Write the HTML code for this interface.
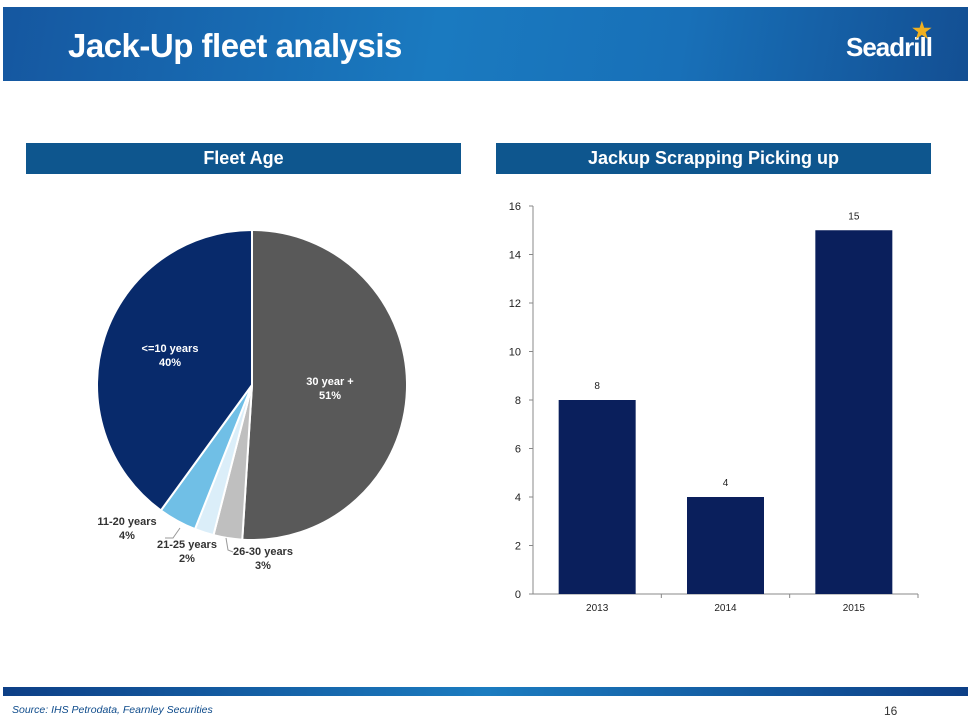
<!DOCTYPE html>
<html><head><meta charset="utf-8"><style>
body{margin:0;width:975px;height:718px;background:#fff;position:relative;overflow:hidden;font-family:"Liberation Sans",sans-serif}
.hdr{position:absolute;left:3px;top:7px;width:965px;height:74px;background:linear-gradient(100deg,#1557a0 0%,#1a7ac0 45%,#1870b8 70%,#134f93 100%)}
.title{position:absolute;left:68px;top:27px;color:#fff;font-weight:bold;font-size:33px;letter-spacing:-0.5px}
.logo{position:absolute;left:846px;top:32px;color:#fff;font-weight:bold;font-size:26px;letter-spacing:-1px}
.sec{position:absolute;top:143px;height:31px;background:#0e568e;color:#fff;font-weight:bold;font-size:18px;text-align:center;line-height:31px}
.foot{position:absolute;left:3px;top:687px;width:965px;height:9px;background:linear-gradient(90deg,#0d3f86,#1b7cc0 50%,#0d3f86)}
.src{position:absolute;left:12px;top:704px;font-size:10.5px;font-style:italic;color:#0e4b8b}
.pg{position:absolute;left:884px;top:704px;font-size:12px;color:#333}
</style></head><body>
<div class="hdr"></div>
<div class="title">Jack-Up fleet analysis</div>
<div class="logo">Seadrill<span style="position:absolute;left:66px;top:-14px;color:#f0b020;font-size:22px">★</span></div>
<div class="sec" style="left:26px;width:435px">Fleet Age</div>
<div class="sec" style="left:496px;width:435px">Jackup Scrapping Picking up</div>
<svg id="pie" width="975" height="718" style="position:absolute;left:0;top:0"></svg>
<div class="foot"></div>
<div class="src">Source: IHS Petrodata, Fearnley Securities</div>
<div class="pg">16</div>
<script>
const pieLabels=["30 year +","26-30 years","21-25 years","11-20 years","<=10 years"];
const pieValues=[51,3,2,4,40];
const pieColors=["#595959","#bfbfbf","#dbeef9","#70bfe6","#082a6b"];
const barCats=["2013","2014","2015"];
const barValues=[8,4,15];
const yTicks=[0,2,4,6,8,10,12,14,16];
const NS="http://www.w3.org/2000/svg";
const svg=document.getElementById('pie');
function mk(t,a,p){const e=document.createElementNS(NS,t);for(const k in a)e.setAttribute(k,a[k]);(p||svg).appendChild(e);return e;}
const cx=252,cy=385,R=155;
const tot=pieValues.reduce((a,b)=>a+b,0);
let ang=0;
const lblPos=[[330,385],[263,555],[187,548],[127,525],[170,352]];
pieValues.forEach((v,i)=>{
 const a0=ang,a1=ang+v/tot*2*Math.PI;ang=a1;
 const x0=cx+R*Math.sin(a0),y0=cy-R*Math.cos(a0),x1=cx+R*Math.sin(a1),y1=cy-R*Math.cos(a1);
 const p=mk('path',{d:`M${cx},${cy}L${x0},${y0}A${R},${R} 0 ${a1-a0>Math.PI?1:0} 1 ${x1},${y1}Z`,fill:pieColors[i],stroke:'#fff','stroke-width':2});
 
 
 const [lx,ly]=lblPos[i];const col=(i==0||i==4)?'#fff':'#333';
 const t=mk('text',{x:lx,y:ly,'text-anchor':'middle','font-size':11,'font-weight':'bold',fill:col});
 
 
 t.textContent=pieLabels[i];
 const t2=mk('text',{x:lx,y:ly+14,'text-anchor':'middle','font-size':11,'font-weight':'bold',fill:col});
 
 
 t2.textContent=v+'%';
});
mk('polyline',{points:'165,538 173,538 180,528',fill:'none',stroke:'#999'});
mk('polyline',{points:'226,538 228,550 233,552',fill:'none',stroke:'#999'});
const x0=533,x1=918,yb=594,yt=206,ymax=16;
const ys=v=>yb-(v/ymax)*(yb-yt);
const slot=(x1-x0)/barCats.length;
mk('line',{x1:x0,y1:yt,x2:x0,y2:yb,stroke:'#888'});
mk('line',{x1:x0,y1:yb,x2:x1,y2:yb,stroke:'#888'});
yTicks.forEach(v=>{
 mk('line',{x1:x0-4,y1:ys(v),x2:x0,y2:ys(v),stroke:'#888'});
 const t=mk('text',{x:x0-12,y:ys(v)+4,'text-anchor':'end','font-size':11,fill:'#222'});
 
 
 t.textContent=v;
});
barCats.forEach((c,i)=>{
 const cxb=x0+slot*(i+0.5),w=77;
 const r=mk('rect',{x:cxb-w/2,y:ys(barValues[i]),width:w,height:yb-ys(barValues[i]),fill:'#0a1f5c'});
 
 
 mk('line',{x1:x0+slot*(i+1),y1:yb,x2:x0+slot*(i+1),y2:yb+4,stroke:'#888'});
 const t=mk('text',{x:cxb,y:yb+17,'text-anchor':'middle','font-size':10,fill:'#222'});
 
 
 t.textContent=c;
 const v=mk('text',{x:cxb,y:ys(barValues[i])-11,'text-anchor':'middle','font-size':10,fill:'#222'});
 
 
 v.textContent=barValues[i];
});
</script>
</body></html>
